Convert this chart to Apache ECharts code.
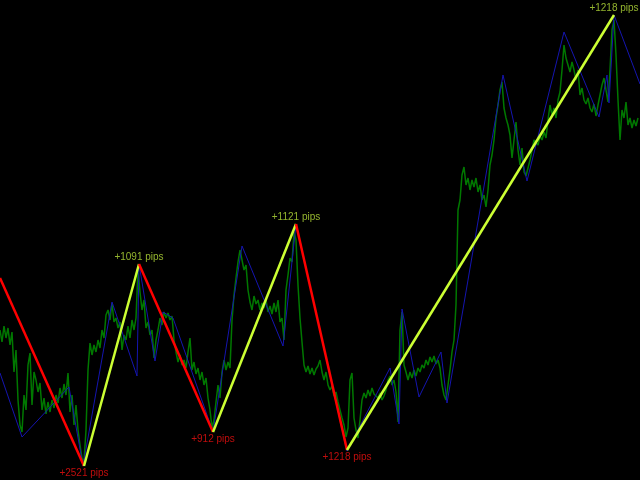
<!DOCTYPE html>
<html>
<head>
<meta charset="utf-8">
<script src="https://cdn.jsdelivr.net/npm/echarts@6/dist/echarts.min.js"></script>
<style>
  html, body { margin: 0; padding: 0; background: #000; }
  #chart { width: 640px; height: 480px; }
</style>
</head>
<body>
<div id="chart"></div>
<script>
// price trace, one value every 2 bars
const priceStep = 2;
const priceClose = [
  150,138,154,142,152,135,148,108,130,80,55,48,85,70,115,127,75,108,100,88,
  97,70,82,66,78,68,80,72,85,77,92,82,96,85,107,68,85,55,75,50,
  35,22,18,50,110,137,125,135,128,140,132,150,142,165,170,160,177,158,162,152,
  158,130,145,140,154,142,160,150,162,210,188,170,180,152,158,145,150,122,140,150,
  162,155,168,162,167,160,164,140,128,118,125,115,120,112,128,142,110,118,106,112,
  100,108,95,102,82,70,52,60,78,95,82,108,120,110,118,112,160,185,202,218,
  230,232,210,215,190,178,170,184,176,180,170,177,172,180,168,174,166,177,168,180,
  158,162,140,190,205,222,218,248,240,195,162,138,115,108,114,106,112,105,111,114,
  120,108,100,108,95,90,94,84,88,78,70,62,55,43,52,100,107,62,50,42,
  60,80,87,82,90,84,92,86,88,82,87,80,84,90,100,104,95,100,88,58,
  150,168,115,108,100,108,102,110,104,112,108,115,112,120,115,123,118,124,116,120,
  112,95,85,80,95,110,128,140,175,270,280,305,313,295,302,290,300,293,302,288,
  295,280,285,273,290,315,325,340,362,375,390,398,372,362,355,345,322,340,358,330,
  315,332,308,304,312,320,330,340,342,335,344,340,348,342,360,375,365,372,362,380,
  388,410,435,422,415,408,418,410,400,410,385,392,380,376,382,372,368,376,364,375,
  385,395,402,390,378,410,450,460,425,380,340,370,362,378,355,362,352,360,354,362
];

// fine swing line
const swingBar = [0,22,69,83,112,137,139,155,163,173,213,242,283,296,347,390,399,402,419,441,447,503,527,564,599,607,609,614,640];
const swingPrice = [107,43,93,14,178,104,216,119,168,162,48,234,134,256,29,112,56,171,83,128,77,405,299,448,363,405,377,465,396];

// major zigzag
const zzBar = [0,84,139,213,296,347,614];
const zzPrice = [202,14,216,48,256,30,465];
const zzLabels = ['', '+2521 pips', '+1091 pips', '+912 pips', '+1121 pips', '+1218 pips', '+1218 pips'];

const upColor = '#ccff33';
const downColor = '#ff0000';

const chart = echarts.init(document.getElementById('chart'));

let series = [
  {
    type: 'line',
    data: priceClose.map((v, i) => [i * priceStep, v]),
    showSymbol: false,
    lineStyle: { color: '#007800', width: 1.5 },
    z: 1
  },
  {
    type: 'line',
    data: swingBar.map((b, i) => [b, swingPrice[i]]),
    showSymbol: false,
    lineStyle: { color: '#1515b0', width: 1 },
    z: 2
  }
];

for (let i = 0; i < zzBar.length - 1; i++) {
  let up = zzPrice[i + 1] > zzPrice[i];
  series.push({
    type: 'line',
    data: [[zzBar[i], zzPrice[i]], [zzBar[i + 1], zzPrice[i + 1]]],
    showSymbol: false,
    lineStyle: { color: up ? upColor : downColor, width: 2.5 },
    z: 3
  });
}

series.push({
  type: 'scatter',
  symbolSize: 0,
  data: zzBar.map((b, i) => {
    let top = i > 0 && zzPrice[i] > zzPrice[i - 1];
    return {
      value: [b, zzPrice[i]],
      label: {
        show: i > 0,
        formatter: zzLabels[i],
        position: top ? 'top' : 'bottom',
        distance: 2,
        color: top ? '#b8e03a' : '#f01010'
      }
    };
  }),
  label: { fontFamily: 'Liberation Sans', fontSize: 10 },
  z: 4
});

chart.setOption({
  backgroundColor: '#000',
  animation: false,
  grid: { left: 0, right: 0, top: 0, bottom: 0 },
  xAxis: { type: 'value', min: 0, max: 640, show: false },
  yAxis: { type: 'value', min: 0, max: 480, show: false },
  series: series
});
</script>
</body>
</html>
